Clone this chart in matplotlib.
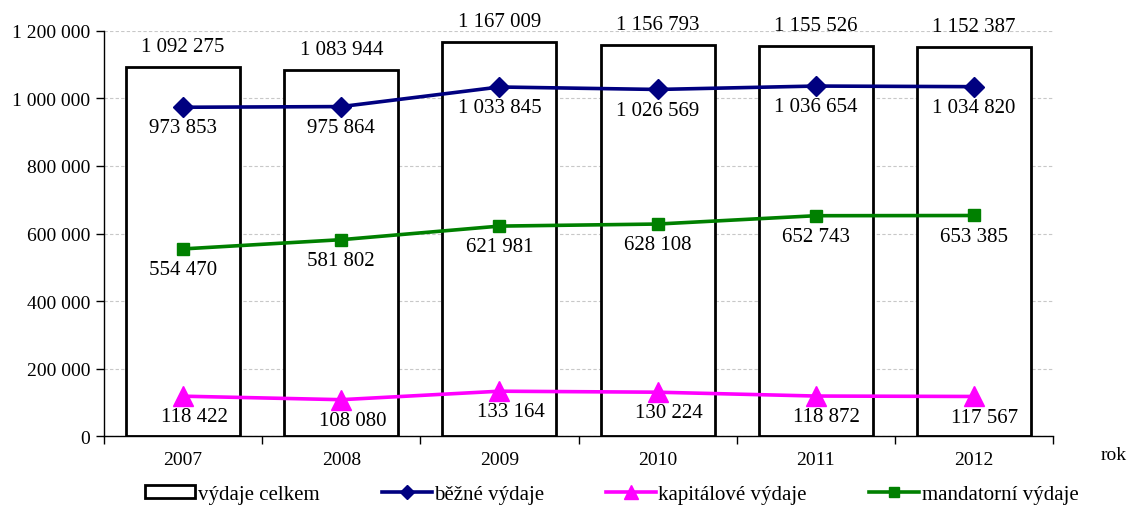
import numpy as np
import matplotlib
matplotlib.use('Agg')
import matplotlib.pyplot as plt
from matplotlib.ticker import FuncFormatter, FixedLocator, NullFormatter

plt.rcParams['font.family'] = ['Liberation Serif', 'DejaVu Serif']

roky = ['2007', '2008', '2009', '2010', '2011', '2012']
vydaje_celkem = [1092275, 1083944, 1167009, 1156793, 1155526, 1152387]
bezne_vydaje = [973853, 975864, 1033845, 1026569, 1036654, 1034820]
kapitalove_vydaje = [118422, 108080, 133164, 130224, 118872, 117567]
mandatorni_vydaje = [554470, 581802, 621981, 628108, 652743, 653385]


def fmt_cz(v, pos=None):
    return f'{int(round(v)):,}'.replace(',', ' ')


fig = plt.figure(figsize=(11.31, 5.06), dpi=100)
ax = fig.add_axes([0.092, 0.136, 0.839, 0.801])

x = np.arange(len(roky))
bary = ax.bar(x, vydaje_celkem, width=0.72, color='white', edgecolor='black',
              linewidth=2, zorder=2, label='výdaje celkem')
l1, = ax.plot(x, bezne_vydaje, color='#000080', lw=2.6, marker='D', ms=10,
              zorder=3, label='běžné výdaje')
l2, = ax.plot(x, kapitalove_vydaje, color='#FF00FF', lw=2.6, marker='^', ms=14,
              zorder=3, label='kapitálové výdaje')
l3, = ax.plot(x, mandatorni_vydaje, color='#008000', lw=2.6, marker='s', ms=9,
              zorder=3, label='mandatorní výdaje')

# popisky hodnot
for i in x:
    ax.annotate(fmt_cz(vydaje_celkem[i]), (i, vydaje_celkem[i]), xytext=(0, 8),
                textcoords='offset points', ha='center', va='bottom', fontsize=15, zorder=4)
    ax.annotate(fmt_cz(bezne_vydaje[i]), (i, bezne_vydaje[i]), xytext=(0, -8),
                textcoords='offset points', ha='center', va='top', fontsize=15, zorder=4)
    ax.annotate(fmt_cz(mandatorni_vydaje[i]), (i, mandatorni_vydaje[i]), xytext=(0, -8),
                textcoords='offset points', ha='center', va='top', fontsize=15, zorder=4)
    ax.annotate(fmt_cz(kapitalove_vydaje[i]), (i, kapitalove_vydaje[i]), xytext=(8, -8),
                textcoords='offset points', ha='center', va='top', fontsize=15, zorder=4)

ax.set_xlim(-0.5, len(roky) - 0.5)
ax.set_ylim(0, 1200000)
ax.set_yticks(np.arange(0, 1200001, 200000))
ax.yaxis.set_major_formatter(FuncFormatter(fmt_cz))
ax.yaxis.grid(True, color='#c8c8c8', linestyle=(0, (3, 2)), linewidth=0.8, zorder=0)
ax.set_axisbelow(True)

ax.set_xticks(x)
ax.set_xticklabels(roky)
ax.tick_params(axis='x', which='major', length=0, pad=11, labelsize=14)
ax.xaxis.set_minor_locator(FixedLocator(np.arange(-0.5, len(roky), 1.0)))
ax.xaxis.set_minor_formatter(NullFormatter())
ax.tick_params(axis='x', which='minor', length=6, width=1, direction='out')
ax.tick_params(axis='y', length=6, width=1, direction='out', labelsize=14, pad=4)

for s in ['top', 'right']:
    ax.spines[s].set_visible(False)
for s in ['left', 'bottom']:
    ax.spines[s].set_linewidth(1)

ax.text(1.05, -0.044, 'rok', transform=ax.transAxes, fontsize=14, ha='left', va='center')

fig.legend([bary, l1, l2, l3],
           ['výdaje celkem', 'běžné výdaje', 'kapitálové výdaje', 'mandatorní výdaje'],
           loc='lower center', bbox_to_anchor=(0.541, -0.014), ncol=4, frameon=False,
           fontsize=15, handlelength=2.4, handleheight=0.6, handletextpad=0.1,
           columnspacing=3.0, borderaxespad=0, markerscale=0.75)

fig.savefig('out.png', dpi=100)
